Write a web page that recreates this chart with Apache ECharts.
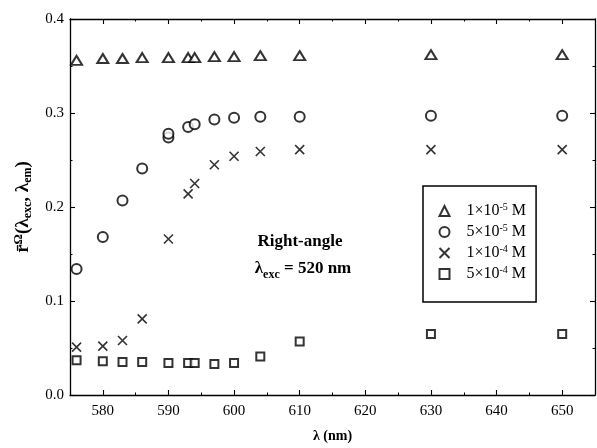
<!DOCTYPE html>
<html>
<head>
<meta charset="utf-8">
<script src="https://cdn.jsdelivr.net/npm/echarts@6/dist/echarts.min.js"></script>
<style>
  html, body { margin: 0; padding: 0; background: #fff; }
  #chart { width: 597px; height: 448px; }
</style>
</head>
<body>
<div id="chart"></div>
<script>
// Excitation/emission anisotropy vs. emission wavelength for four concentrations
const wavelengths = [576, 580, 583, 586, 590, 593, 594, 597, 600, 604, 610, 630, 650];
const circleWavelengths = [576, 580, 583, 586, 590, 590, 593, 594, 597, 600, 604, 610, 630, 650];

const conc1e5 = [0.356, 0.358, 0.358, 0.359, 0.359, 0.359, 0.359, 0.360, 0.360, 0.361, 0.361, 0.362, 0.362];
const conc5e5 = [0.134, 0.168, 0.207, 0.241, 0.274, 0.278, 0.285, 0.288, 0.293, 0.295, 0.296, 0.296, 0.297, 0.297];
const conc1e4 = [0.051, 0.052, 0.058, 0.081, 0.166, 0.214, 0.225, 0.245, 0.254, 0.259, 0.261, 0.261, 0.261];
const conc5e4 = [0.037, 0.036, 0.035, 0.035, 0.034, 0.034, 0.034, 0.033, 0.034, 0.041, 0.057, 0.065, 0.065];

const seriesNames = ['1e-5', '5e-5', '1e-4', '5e-4'];
const legendLabels = {
  '1e-5': ['1×10', '-5'],
  '5e-5': ['5×10', '-5'],
  '1e-4': ['1×10', '-4'],
  '5e-4': ['5×10', '-4']
};

const xMajorTicks = [580, 590, 600, 610, 620, 630, 640, 650];

const FONT = '"Liberation Serif", "Times New Roman", serif';
const INK = '#000';

function pairs(xs, ys) { return xs.map((x, i) => [x, ys[i]]); }

const crossPath = 'path://M0,0L10,10M10,0L0,10';

function xAxisPair(position) {
  const major = {
    type: 'value', position: position, min: 575, max: 655,
    axisLine: { show: true, onZero: false, lineStyle: { color: INK, width: 1.3 } },
    axisTick: { show: true, inside: true, length: 5, customValues: xMajorTicks, lineStyle: { color: INK, width: 1.1 } },
    axisLabel: { show: position === 'bottom', customValues: xMajorTicks, fontFamily: FONT, fontSize: 15, color: INK, margin: 9 },
    splitLine: { show: false }
  };
  const minor = {
    type: 'value', position: position, min: 575, max: 655, interval: 5,
    axisLine: { show: false, onZero: false },
    axisTick: { show: true, inside: true, length: 2.5, lineStyle: { color: INK, width: 1 } },
    axisLabel: { show: false },
    splitLine: { show: false }
  };
  return [major, minor];
}

function yAxisSide(position) {
  return {
    type: 'value', position: position, min: 0, max: 0.4, interval: 0.1,
    axisLine: { show: true, onZero: false, lineStyle: { color: INK, width: 1.3 } },
    axisTick: { show: true, inside: true, length: 5, lineStyle: { color: INK, width: 1.1 } },
    minorTick: { show: true, splitNumber: 2, length: 2.5, lineStyle: { color: INK, width: 1 } },
    axisLabel: { show: position === 'left', inside: false, fontFamily: FONT, fontSize: 15, color: INK, margin: 6,
      formatter: v => v.toFixed(1) },
    splitLine: { show: false },
    name: position === 'left' ? '{b|r̄}{sup|Ω}{b|(λ}{sub|exc}{b|, λ}{sub|em}{b|)}' : '',
    nameLocation: 'middle',
    nameRotate: 90,
    nameGap: 26,
    nameTextStyle: {
      rich: {
        b: { fontFamily: FONT, fontSize: 19, fontWeight: 'bold', color: INK },
        sup: { fontFamily: FONT, fontSize: 13, fontWeight: 'bold', color: INK, padding: [0, 0, 9, 0] },
        sub: { fontFamily: FONT, fontSize: 12, fontWeight: 'bold', color: INK, padding: [10, 0, 0, 0] }
      }
    }
  };
}

const xAxes = [...xAxisPair('bottom'), ...xAxisPair('top')];
xAxes[0].name = 'λ (nm)';
xAxes[0].nameLocation = 'middle';
xAxes[0].nameGap = 34;
xAxes[0].nameTextStyle = { fontFamily: FONT, fontSize: 14, fontWeight: 'bold', color: INK };

function scatter(name, xs, ys, symbol, size) {
  return {
    name: name, type: 'scatter', xAxisIndex: 0, yAxisIndex: 0,
    data: pairs(xs, ys), symbol: symbol, symbolSize: size,
    itemStyle: { color: symbol === crossPath ? 'none' : INK, borderColor: INK, borderWidth: 1.6 },
    emphasis: { disabled: true }
  };
}

const option = {
  animation: false,
  backgroundColor: '#fff',
  grid: { left: 70, right: 2, top: 19, bottom: 51, containLabel: false },
  xAxis: xAxes,
  yAxis: [yAxisSide('left'), yAxisSide('right')],
  legend: {
    orient: 'vertical', left: 423, top: 186,
    padding: [16, 10, 20, 14],
    itemWidth: 10, itemHeight: 10, itemGap: 4,
    borderColor: INK, borderWidth: 1.5,
    data: seriesNames,
    selectedMode: false,
    formatter: name => '{g|}{t|' + legendLabels[name][0] + '}{s|' + legendLabels[name][1] + '}{t| M}',
    textStyle: {
      rich: {
        g: { width: 12 },
        t: { fontFamily: FONT, fontSize: 16, color: INK, lineHeight: 16 },
        s: { fontFamily: FONT, fontSize: 10, color: INK, padding: [0, 0, 8, 0] }
      }
    }
  },
  graphic: [
    { type: 'text', x: 300, y: 242,
      style: { text: 'Right-angle', font: 'bold 17px ' + FONT, fill: INK, align: 'center', verticalAlign: 'middle' } },
    { type: 'text', x: 303, y: 269,
      style: {
        text: '{l|λ}{sub|exc}{l| = 520 nm}',
        align: 'center', verticalAlign: 'middle',
        rich: {
          l: { fontFamily: FONT, fontSize: 17, fontWeight: 'bold', fill: INK },
          sub: { fontFamily: FONT, fontSize: 12, fontWeight: 'bold', fill: INK, padding: [12, 0, 0, 0] }
        }
      }
    }
  ],
  series: [
    scatter(seriesNames[0], wavelengths, conc1e5, 'emptyTriangle', [11, 9]),
    scatter(seriesNames[1], circleWavelengths, conc5e5, 'emptyCircle', 10),
    scatter(seriesNames[2], wavelengths, conc1e4, crossPath, 9),
    scatter(seriesNames[3], wavelengths, conc5e4, 'emptyRect', 8)
  ]
};

const chart = echarts.init(document.getElementById('chart'), null, { renderer: 'canvas' });
chart.setOption(option);
</script>
</body>
</html>
